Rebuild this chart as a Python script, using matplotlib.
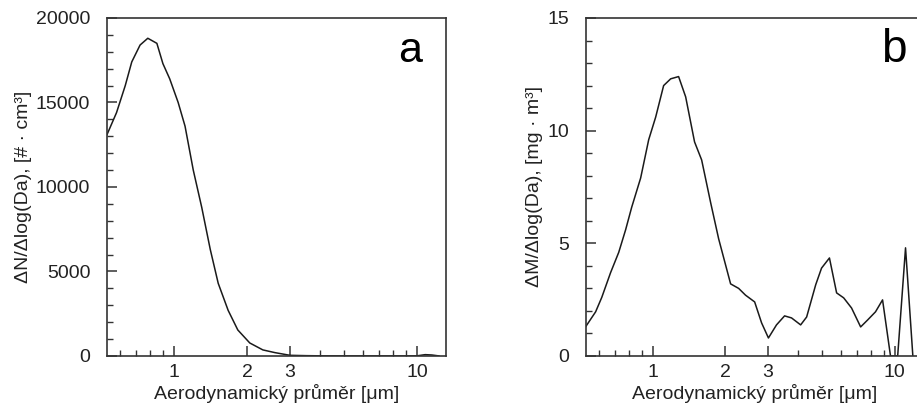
import matplotlib
matplotlib.use("Agg")
import matplotlib.pyplot as plt
from matplotlib.ticker import FixedLocator, FixedFormatter, MultipleLocator

plt.rcParams["font.family"] = ["Liberation Sans", "DejaVu Sans"]
plt.rcParams["font.size"] = 14

# number size distribution (panel a)
dia_n = [0.53, 0.58, 0.63, 0.67, 0.725, 0.78, 0.85, 0.90, 0.96, 1.04, 1.11,
         1.20, 1.30, 1.41, 1.52, 1.67, 1.83, 2.05, 2.32, 2.6, 3.0, 3.5, 4.0,
         5.0, 6.0, 7.0, 8.0, 9.0, 10.0, 10.8, 11.5, 12.3]
conc_n = [13100, 14400, 16000, 17400, 18400, 18800, 18500, 17300, 16400,
          15000, 13600, 11000, 8800, 6300, 4300, 2700, 1540, 770, 360, 200,
          40, 20, 10, 5, 5, 5, 5, 5, 10, 80, 60, 5]

# mass size distribution (panel b)
dia_m = [0.524, 0.581, 0.616, 0.670, 0.724, 0.773, 0.819, 0.892, 0.963, 1.029,
         1.11, 1.187, 1.28, 1.369, 1.49, 1.594, 1.737, 1.874, 2.10, 2.267,
         2.42, 2.64, 2.82, 3.01, 3.25, 3.51, 3.75, 4.09, 4.33, 4.72, 4.99,
         5.38, 5.76, 6.16, 6.64, 7.24, 7.74, 8.34, 8.92, 9.62, 10.3, 11.1, 11.9]
conc_m = [1.24, 1.96, 2.6, 3.7, 4.6, 5.6, 6.6, 7.9, 9.6, 10.6, 12.0, 12.3,
          12.4, 11.5, 9.5, 8.7, 6.8, 5.2, 3.2, 3.0, 2.7, 2.4, 1.47, 0.8, 1.38,
          1.78, 1.69, 1.38, 1.73, 3.16, 3.9, 4.35, 2.8, 2.58, 2.13, 1.29, 1.6,
          1.96, 2.49, 0.0, 0.0, 4.8, 0.0]

x_major = [1, 2, 3, 10]
x_labels = ["1", "2", "3", "10"]
x_minor = [0.6, 0.7, 0.8, 0.9, 4, 5, 6, 7, 8, 9]
xlabel = "Aerodynamický průměr [μm]"

fig = plt.figure(figsize=(9.17, 4.05), dpi=100)
ax_a = fig.add_axes([0.1167, 0.121, 0.3697, 0.8346])
ax_b = fig.add_axes([0.639, 0.121, 0.368, 0.8346])

txt = "#222222"


def style(ax, ymax, ymajor, yminor):
    ax.set_xscale("log")
    ax.set_xlim(0.53, 13.16)
    ax.set_ylim(0, ymax)
    ax.xaxis.set_major_locator(FixedLocator(x_major))
    ax.xaxis.set_major_formatter(FixedFormatter(x_labels))
    ax.xaxis.set_minor_locator(FixedLocator(x_minor))
    ax.xaxis.set_minor_formatter(FixedFormatter([""] * len(x_minor)))
    ax.yaxis.set_major_locator(MultipleLocator(ymajor))
    ax.yaxis.set_minor_locator(MultipleLocator(yminor))
    ax.tick_params(axis="both", which="both", direction="in",
                   colors="#333333", labelcolor=txt, labelsize=14)
    ax.tick_params(axis="both", which="major", length=7, width=1.1)
    ax.tick_params(axis="both", which="minor", length=4, width=1.0)
    ax.tick_params(axis="x", which="both", pad=6)
    ax.tick_params(axis="y", which="both", pad=12)
    for sp in ax.spines.values():
        sp.set_color("#333333")
        sp.set_linewidth(1.2)
    ax.set_xlabel(xlabel, color=txt, fontsize=14, labelpad=2)


ax_a.plot(dia_n, conc_n, color="#1a1a1a", lw=1.1)
style(ax_a, 20000, 5000, 1000)
ax_a.set_ylabel("ΔN/Δlog(Da), [# · cm³]", color=txt, fontsize=14, labelpad=3)
ax_a.text(0.929, 0.870, "a", transform=ax_a.transAxes, ha="right",
          va="baseline", fontsize=31, color="black")

ax_b.plot(dia_m, conc_m, color="#1a1a1a", lw=1.1)
style(ax_b, 15, 5, 1)
ax_b.set_ylabel("ΔM/Δlog(Da), [mg · m³]", color=txt, fontsize=14, labelpad=3)
ax_b.text(0.951, 0.870, "b", transform=ax_b.transAxes, ha="right",
          va="baseline", fontsize=33, color="black")

fig.savefig("out.png", dpi=100)
